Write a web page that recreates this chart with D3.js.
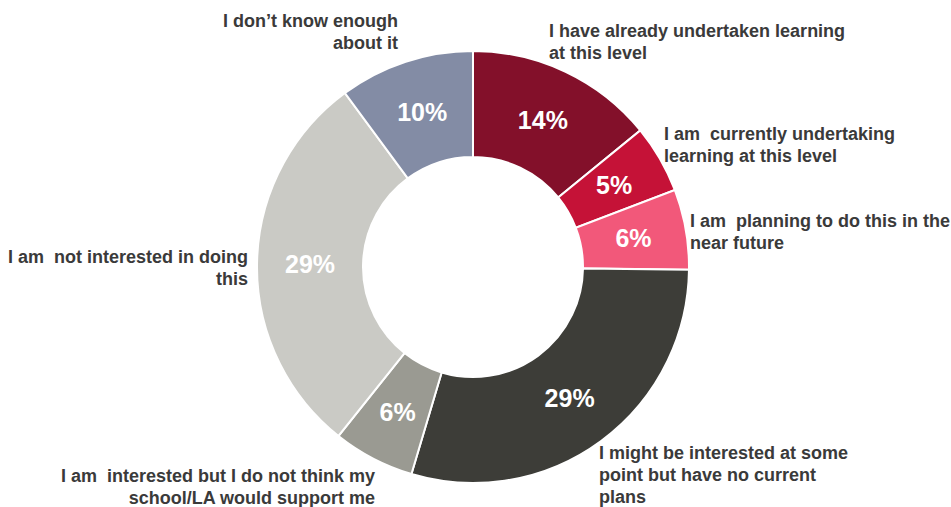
<!DOCTYPE html>
<html>
<head>
<meta charset="utf-8">
<script src="https://cdn.jsdelivr.net/npm/d3@7"></script>
<style>
  html, body { margin: 0; padding: 0; background: #fff; }
  svg { display: block; }
  text { font-family: "Liberation Sans", Arial, sans-serif; font-weight: bold; }
</style>
</head>
<body>
<svg id="chart" width="951" height="507"></svg>
<script>
// ---- data ----
const categories = [
  "I have already undertaken learning at this level",
  "I am currently undertaking learning at this level",
  "I am planning to do this in the near future",
  "I might be interested at some point but have no current plans",
  "I am interested but I do not think my school/LA would support me",
  "I am not interested in doing this",
  "I don\u2019t know enough about it"
];
const values = [14.1, 5.1, 6.0, 29.4, 6.1, 29.2, 10.1];
const valueLabels = ["14%", "5%", "6%", "29%", "6%", "29%", "10%"];
const labelLines = [
  ["I have already undertaken learning", "at this level"],
  ["I am  currently undertaking", "learning at this level"],
  ["I am  planning to do this in the", "near future"],
  ["I might be interested at some", "point but have no current", "plans"],
  ["I am  interested but I do not think my", "school/LA would support me"],
  ["I am  not interested in doing", "this"],
  ["I don\u2019t know enough", "about it"]
];

// ---- styles / layout ----
const colors = ["#83102a", "#c51237", "#f2587a", "#3d3d38", "#9a9a92", "#cacac5", "#838ca5"];
const cx = 473, cy = 267, rOuter = 216, rInner = 110;
// label anchors relative to the chart centre: [dx, dy of first baseline, anchor]
const labelLayout = [
  [76, -230, "start"],
  [191, -127, "start"],
  [217, -40, "start"],
  [126, 192, "start"],
  [-98, 215, "end"],
  [-225, -4, "end"],
  [-75, -240, "end"]
];
const lineGap = 22;

const svg = d3.select("#chart");
const g = svg.append("g").attr("transform", `translate(${cx},${cy})`);

const pie = d3.pie().sort(null).value(d => d)(values);
const arc = d3.arc().innerRadius(rInner).outerRadius(rOuter);

g.selectAll("path.slice")
  .data(pie)
  .join("path")
  .attr("class", "slice")
  .attr("d", arc)
  .attr("fill", (d, i) => colors[i])
  .attr("stroke", "#fff")
  .attr("stroke-width", 2)
  .attr("stroke-linejoin", "miter");

g.selectAll("text.pct")
  .data(pie)
  .join("text")
  .attr("class", "pct")
  .attr("transform", d => `translate(${arc.centroid(d)})`)
  .attr("text-anchor", "middle")
  .attr("dy", "0.36em")
  .attr("fill", "#fff")
  .attr("font-size", 25)
  .text((d, i) => valueLabels[i]);

const lbl = g.selectAll("text.lbl")
  .data(categories)
  .join("text")
  .attr("class", "lbl")
  .attr("x", (d, i) => labelLayout[i][0])
  .attr("y", (d, i) => labelLayout[i][1])
  .attr("text-anchor", (d, i) => labelLayout[i][2])
  .attr("fill", "#3a3a3a")
  .attr("font-size", 18);

lbl.each(function(d, i) {
  const t = d3.select(this);
  labelLines[i].forEach((line, j) => {
    t.append("tspan")
      .attr("x", labelLayout[i][0])
      .attr("y", labelLayout[i][1] + j * lineGap)
      .attr("xml:space", "preserve")
      .style("white-space", "pre")
      .text(line);
  });
});
</script>
</body>
</html>
